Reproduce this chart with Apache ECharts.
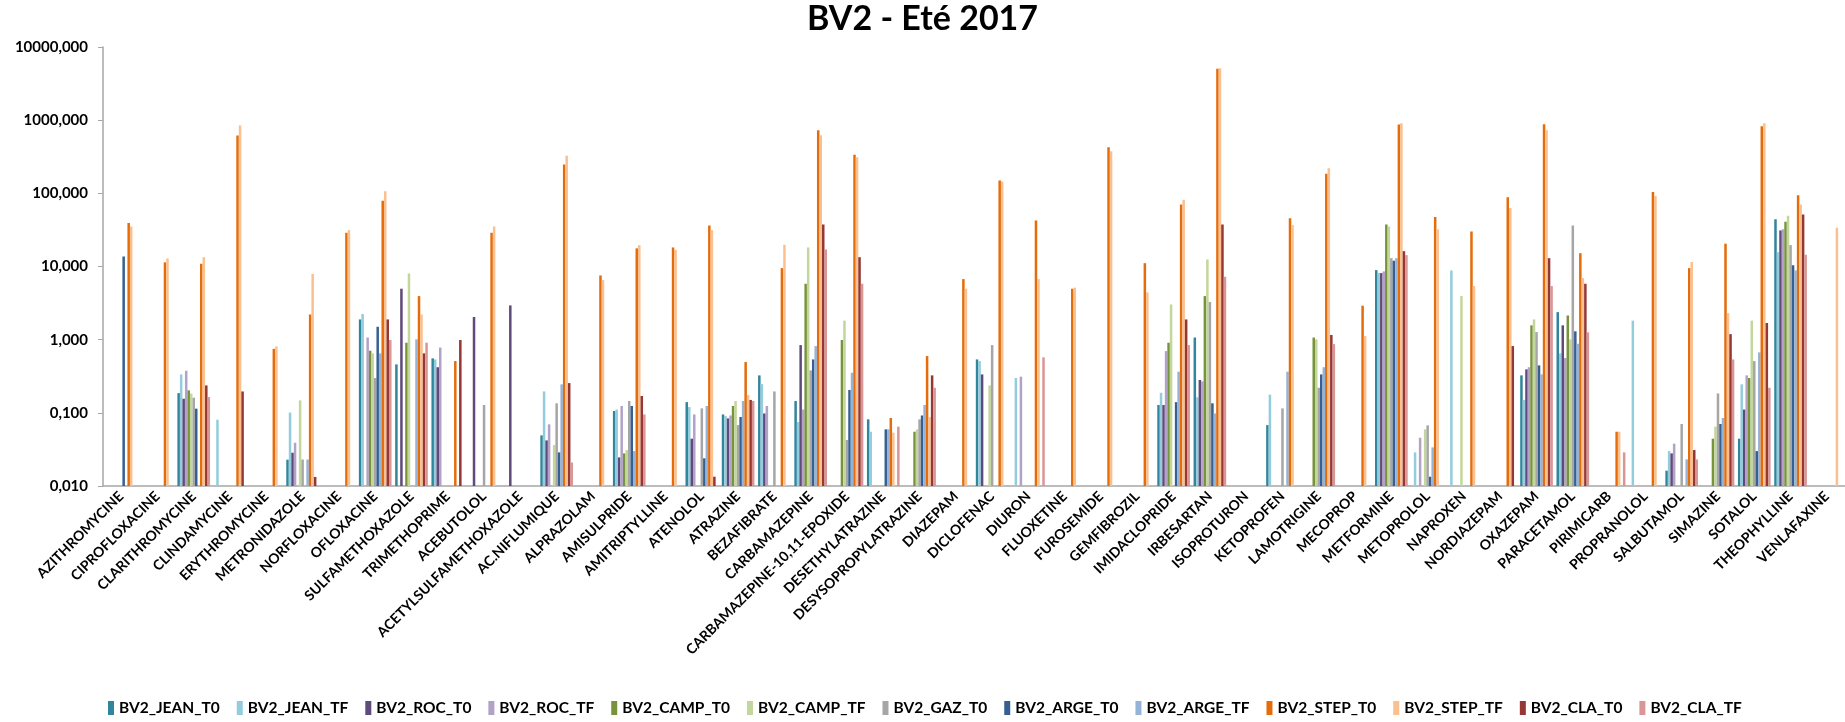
<!DOCTYPE html>
<html>
<head>
<meta charset="utf-8">
<title>BV2 - Eté 2017</title>
<script src="https://cdn.jsdelivr.net/npm/echarts@6/dist/echarts.min.js"></script>
<style>
  html, body { margin: 0; padding: 0; background: #fff; }
  #chart { width: 1845px; height: 722px; }
</style>
</head>
<body>
<div id="chart"></div>
<script>
// molécules (axe des x)
const categories = [
  'AZITHROMYCINE', 'CIPROFLOXACINE', 'CLARITHROMYCINE', 'CLINDAMYCINE', 'ERYTHROMYCINE',
  'METRONIDAZOLE', 'NORFLOXACINE', 'OFLOXACINE', 'SULFAMETHOXAZOLE', 'TRIMETHOPRIME',
  'ACEBUTOLOL', 'ACETYLSULFAMETHOXAZOLE', 'AC.NIFLUMIQUE', 'ALPRAZOLAM', 'AMISULPRIDE',
  'AMITRIPTYLLINE', 'ATENOLOL', 'ATRAZINE', 'BEZAFIBRATE', 'CARBAMAZEPINE',
  'CARBAMAZEPINE-10,11-EPOXIDE', 'DESETHYLATRAZINE', 'DESYSOPROPYLATRAZINE', 'DIAZEPAM', 'DICLOFENAC',
  'DIURON', 'FLUOXETINE', 'FUROSEMIDE', 'GEMFIBROZIL', 'IMIDACLOPRIDE',
  'IRBESARTAN', 'ISOPROTURON', 'KETOPROFEN', 'LAMOTRIGINE', 'MECOPROP',
  'METFORMINE', 'METOPROLOL', 'NAPROXEN', 'NORDIAZEPAM', 'OXAZEPAM',
  'PARACETAMOL', 'PIRIMICARB', 'PROPRANOLOL', 'SALBUTAMOL', 'SIMAZINE',
  'SOTALOL', 'THEOPHYLLINE', 'VENLAFAXINE'
]

const yTicks = [0.01, 0.1, 1, 10, 100, 1000, 10000]

// une valeur par molécule, null = pas de barre
const _ = null
const jeanT0 = [_, _, 0.186, _, _, 0.0229, _, 1.89, 0.459, 0.555, _, _, 0.0492, _, 0.106, _, 0.14, 0.095, 0.325, 0.145, _, 0.0815, _, _, 0.537, _, _, _, _, 0.128, 1.07, _, 0.068, _, _, 8.93, _, _, _, 0.325, 2.38, _, _, 0.0162, _, 0.0443, 44.4, _]
const jeanTF = [_, _, 0.335, 0.0805, _, 0.101, _, 2.24, _, 0.537, _, _, 0.196, _, 0.111, _, 0.12, 0.0904, 0.247, 0.0749, _, 0.0552, _, _, 0.51, 0.299, _, _, _, 0.188, 0.163, _, 0.177, _, _, 8.13, 0.0288, 8.83, _, 0.15, 0.65, _, 1.82, 0.03, _, 0.245, 15.7, _]
const rocT0 = [_, _, 0.156, _, _, 0.0285, _, _, 4.97, 0.42, 2.04, 2.94, 0.042, _, 0.0246, _, 0.0443, 0.084, 0.098, 0.844, _, _, _, _, 0.335, _, _, _, _, 0.128, 0.281, _, _, _, _, 8.13, _, _, _, 0.393, 1.57, _, _, 0.0279, _, 0.111, 31.1, _]
const rocTF = [_, _, 0.376, _, _, 0.039, _, 1.07, _, 0.78, _, _, 0.0696, _, 0.124, _, 0.095, 0.092, 0.124, 0.111, _, _, _, _, _, 0.312, _, _, _, 0.698, 0.269, _, _, _, _, 8.57, 0.0457, _, _, 0.42, 0.561, _, _, 0.0379, _, 0.325, 32.4, _]
const campT0 = [_, _, 0.203, _, _, _, _, 0.706, 0.908, _, _, _, _, _, 0.0279, _, _, 0.124, _, 5.81, 0.99, _, 0.0552, _, _, _, _, _, _, 0.908, 3.94, _, _, 1.07, _, 37.6, _, _, _, 1.57, 2.14, _, _, _, 0.0443, 0.299, 40.8, _]
const campTF = [_, _, 0.183, _, _, 0.148, _, 0.65, 8.04, _, _, _, 0.0363, _, 0.031, _, _, 0.145, _, 18.2, 1.82, _, 0.0595, _, 0.237, _, _, _, _, 3.03, 12.5, _, _, 1.01, _, 35.3, 0.0595, 3.94, _, 1.89, 1.01, _, _, _, 0.0647, 1.82, 49.3, _]
const gazT0 = [_, _, 0.161, _, _, 0.023, _, 0.299, _, _, 0.128, _, 0.135, _, 0.145, _, 0.115, 0.068, 0.196, 0.38, 0.0425, _, 0.0815, _, 0.844, _, _, _, _, _, 3.27, _, 0.115, 0.22, _, 13.0, 0.0674, _, _, 1.27, 36.4, _, _, 0.0703, 0.184, 0.51, 19.6, _]
const argeT0 = [13.7, _, 0.114, _, _, _, _, 1.5, _, _, _, _, 0.0288, _, 0.124, _, 0.0239, 0.0877, _, 0.537, 0.205, 0.0595, 0.092, _, _, _, _, _, _, 0.14, 0.135, _, _, 0.335, _, 12.0, 0.0134, _, _, 0.445, 1.3, _, _, _, 0.0703, 0.03, 10.4, _]
const argeTF = [_, _, _, _, _, 0.023, _, 0.65, 1.01, _, _, _, 0.245, _, 0.03, _, 0.124, 0.145, _, 0.818, 0.353, 0.0595, 0.128, _, _, _, _, _, _, 0.365, 0.098, _, 0.365, 0.42, _, 13.0, 0.0337, _, _, 0.335, 0.879, _, _, 0.0231, 0.085, 0.67, 8.83, _]
const stepT0 = [39.2, 11.4, 10.9, 617, 0.75, 2.21, 28.9, 79, 3.94, 0.51, 28.9, _, 248, 7.55, 17.7, 18.2, 36.4, 0.494, 9.5, 730, 336, 0.085, 0.597, 6.73, 150, 42.6, 4.97, 428, 11.1, 70.5, 5024, _, 45.8, 185, 2.91, 873, 47.3, 30.1, 88.7, 881, 15.2, 0.0552, 104, 9.5, 20.5, 828, 94.4, _]
const stepTF = [35.3, 12.9, 13.4, 845, 0.81, 7.9, 31.4, 107, 2.21, _, 35.3, _, 326, 6.52, 19.6, 16.9, 31.4, 0.175, 19.8, 624, 312, 0.0536, 0.0877, 4.97, 145, 6.73, 5.13, 377, 4.43, 81.6, 5130, _, 36.8, 221, 1.12, 910, 32.4, 5.4, 62.8, 730, 6.95, 0.0552, 91.6, 11.5, 2.31, 910, 70.5, 33.8]
const claT0 = [_, _, 0.237, 0.196, _, 0.0133, _, 1.89, 0.65, 0.99, _, _, 0.255, _, 0.17, _, 0.0134, 0.15, _, 37.6, 13.4, _, 0.325, _, _, _, _, _, _, 1.89, 37.6, _, _, 1.16, _, 16.2, _, _, 0.818, 13.0, 5.81, _, _, 0.031, 1.19, 1.69, 51.4, _]
const claTF = [_, _, 0.164, _, _, _, _, 0.99, 0.908, _, _, _, 0.021, _, 0.095, _, _, 0.145, _, 17.1, 5.81, 0.0647, 0.22, _, _, 0.573, _, _, _, 0.844, 7.24, _, _, 0.87, _, 14.3, _, _, _, 5.4, 1.26, 0.0288, _, 0.0231, 0.537, 0.22, 14.5, _]

const seriesList = [
  { name: 'BV2_JEAN_T0', data: jeanT0, color: '#31859C' },
  { name: 'BV2_JEAN_TF', data: jeanTF, color: '#93CDDD' },
  { name: 'BV2_ROC_T0', data: rocT0, color: '#604A7B' },
  { name: 'BV2_ROC_TF', data: rocTF, color: '#B3A2C7' },
  { name: 'BV2_CAMP_T0', data: campT0, color: '#77933C' },
  { name: 'BV2_CAMP_TF', data: campTF, color: '#C3D69B' },
  { name: 'BV2_GAZ_T0', data: gazT0, color: '#A6A6A6' },
  { name: 'BV2_ARGE_T0', data: argeT0, color: '#376092' },
  { name: 'BV2_ARGE_TF', data: argeTF, color: '#95B3D7' },
  { name: 'BV2_STEP_T0', data: stepT0, color: '#E46C0A' },
  { name: 'BV2_STEP_TF', data: stepTF, color: '#FAC090' },
  { name: 'BV2_CLA_T0', data: claT0, color: '#953735' },
  { name: 'BV2_CLA_TF', data: claTF, color: '#D99694' }
]

const font = 'Lato, "Open Sans", sans-serif'
const chart = echarts.init(document.getElementById('chart'))

chart.setOption({
  animation: false,
  title: {
    text: 'BV2 - Eté 2017',
    left: 'center',
    top: 2,
    padding: 0,
    textStyle: { fontFamily: font, fontSize: 34, fontWeight: 'bold', color: '#000' }
  },
  legend: {
    left: 103,
    top: 695,
    icon: 'rect',
    itemWidth: 6,
    itemHeight: 14,
    itemGap: 17,
    textStyle: { fontFamily: font, fontSize: 15.5, fontWeight: 'bold', color: '#000' }
  },
  grid: { left: 103, right: 0, top: 47, bottom: 236 },
  xAxis: {
    type: 'category',
    data: categories,
    axisLine: { lineStyle: { color: '#A6A6A6', width: 1.5 } },
    axisTick: { lineStyle: { color: '#A6A6A6' }, length: 5 },
    axisLabel: {
      interval: 0,
      rotate: 45,
      margin: 8,
      fontFamily: font,
      fontSize: 14,
      fontWeight: 'bold',
      color: '#000'
    }
  },
  yAxis: {
    type: 'log',
    logBase: 10,
    min: yTicks[0],
    max: yTicks[yTicks.length - 1],
    startValue: yTicks[0],
    splitLine: { show: false },
    axisLine: { show: true, lineStyle: { color: '#A6A6A6', width: 1.5 } },
    axisTick: { show: true, length: 5, lineStyle: { color: '#A6A6A6' } },
    axisLabel: {
      margin: 15,
      fontFamily: font,
      fontSize: 15,
      fontWeight: 'bold',
      color: '#000',
      formatter: (v) => Number(v).toFixed(3).replace('.', ',')
    }
  },
  series: seriesList.map((s) => {
    return {
      name: s.name,
      type: 'bar',
      data: s.data,
      barGap: '0%',
      barCategoryGap: '10%',
      itemStyle: { color: s.color }
    }
  })
})
</script>
</body>
</html>
